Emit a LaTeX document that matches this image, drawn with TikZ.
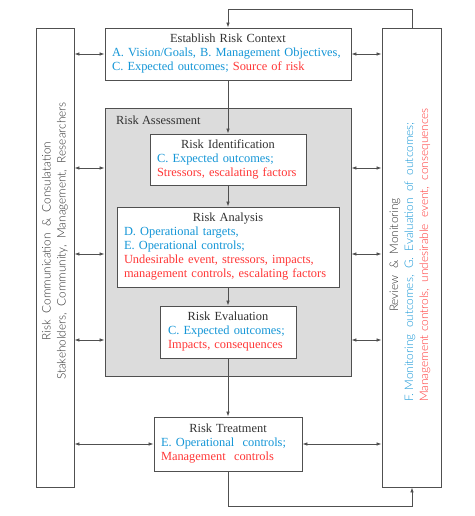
\documentclass[tikz,border=0pt]{standalone}
\usepackage{fontspec}
\setmainfont{Liberation Serif}
\newfontfamily\sidefam{Lato Light}
\usetikzlibrary{arrows.meta}
\definecolor{cblue}{RGB}{20,150,215}
\definecolor{cred}{RGB}{255,55,55}
\definecolor{cline}{RGB}{80,80,80}
\definecolor{ctext}{RGB}{50,50,50}
\definecolor{cgray}{RGB}{220,220,220}
\newcommand{\sidefont}{\sidefam\fontsize{11.8}{15}\selectfont}
\begin{document}
\begin{tikzpicture}[x=1pt,y=-1pt,
  every node/.style={text=ctext},
  box/.style={draw=cline, line width=0.9pt, fill=white, inner sep=0pt, align=left,
    font=\fontsize{12.4}{14}\selectfont},
  panel/.style={draw=cline, line width=0.9pt, fill=white, inner sep=0pt},
  flow/.style={draw=cline, line width=0.8pt, -{Latex[length=5pt,width=3.6pt]}},
  both/.style={draw=cline, line width=0.8pt, {Latex[length=5pt,width=3.6pt]}-{Latex[length=5pt,width=3.6pt]}},
  sidetext/.style={rotate=90, inner sep=0pt, font=\sidefont}
]
\useasboundingbox (0,0) rectangle (474,516);

% side panels
\node[panel, minimum width=38pt, minimum height=459pt] (left) at (55,257.5) {};
\node[panel, minimum width=59pt, minimum height=459pt] (right) at (411.5,257.5) {};
\node[sidetext, align=center] (lefttxt) at (55,241)
  {Risk\ \ Communication\ \ \&\ \ Consulatation\\
   Stakeholders,\ \ Community,\ \ Management,\ \ Researchers};
\node[sidetext] (righttxt) at (410,255)
  {\renewcommand{\arraystretch}{1.0}\begin{tabular}{@{}l@{}}
   \multicolumn{1}{@{}c@{}}{Review\ \ \&\ \ Monitoring}\\
   \textcolor{cblue}{F. Monitoring\ \ outcomes,\ \ G.\ \ Evaluation\ \ of\ \ outcomes;}\\
   \textcolor{cred}{Management controls,\ \ undesirable\ \ event,\ \ consequences}
   \end{tabular}};

% gray assessment box
\node[draw=cline, line width=0.9pt, fill=cgray, minimum width=246pt, minimum height=268pt, inner sep=0pt]
  (assess) at (228,242) {};
\node[anchor=west, font=\fontsize{12.4}{14}\selectfont, inner sep=0pt] (assesslbl) at (116,120) {Risk Assessment};

% boxes
\node[box, minimum width=246pt, minimum height=52pt, text width=232pt] (context) at (228,54)
  {\centerline{Establish Risk Context}
   \textcolor{cblue}{A. Vision/Goals, B. Management Objectives,}\\
   \textcolor{cblue}{C. Expected outcomes;} \textcolor{cred}{Source of risk}};
\node[box, minimum width=156pt, minimum height=51pt, text width=142pt] (ident) at (228,159.5)
  {\centerline{Risk Identification}
   \textcolor{cblue}{C. Expected outcomes;}\\
   \textcolor{cred}{Stressors, escalating factors}};
\node[box, minimum width=222pt, minimum height=80pt, text width=208pt] (analysis) at (228,247)
  {\centerline{Risk Analysis}
   \textcolor{cblue}{D. Operational targets,}\\
   \textcolor{cblue}{E. Operational controls;}\\
   \textcolor{cred}{Undesirable event, stressors, impacts,}\\
   \textcolor{cred}{management controls, escalating factors}};
\node[box, minimum width=136pt, minimum height=52pt, text width=120pt] (eval) at (228,332)
  {\centerline{Risk Evaluation}
   \textcolor{cblue}{C. Expected outcomes;}\\
   \textcolor{cred}{Impacts, consequences}};
\node[box, minimum width=148pt, minimum height=54pt, text width=134pt] (treat) at (228,444)
  {\centerline{Risk Treatment}
   \textcolor{cblue}{E. Operational\ \ controls;}\\
   \textcolor{cred}{Management\ \ controls}};

% vertical flow
\draw[flow] (context.south) -- (ident.north);
\draw[flow] (ident.south) -- (analysis.north);
\draw[flow] (analysis.south) -- (eval.north);
\draw[flow] (eval.south) -- (treat.north);

% feedback loops
\coordinate (topR) at (412,9);
\coordinate (topL) at (228,9);
\draw[flow] (right.north -| topR) -- (topR) -- (topL) -- (context.north);
\coordinate (botL) at (228,506);
\coordinate (botR) at (412,506);
\draw[flow] (treat.south) -- (botL) -- (botR) -- (right.south -| botR);

% double arrows
\draw[both] (left.east |- context.west) -- (context.west);
\draw[both] (context.east) -- (right.west |- context.east);
\foreach \yy in {168,254,340}{
  \draw[both] (left.east |- 0,\yy) -- (assess.west |- 0,\yy);
  \draw[both] (assess.east |- 0,\yy) -- (right.west |- 0,\yy);
}
\draw[both] (left.east |- treat.west) -- (treat.west);
\draw[both] (treat.east) -- (right.west |- treat.east);
\end{tikzpicture}
\end{document}
